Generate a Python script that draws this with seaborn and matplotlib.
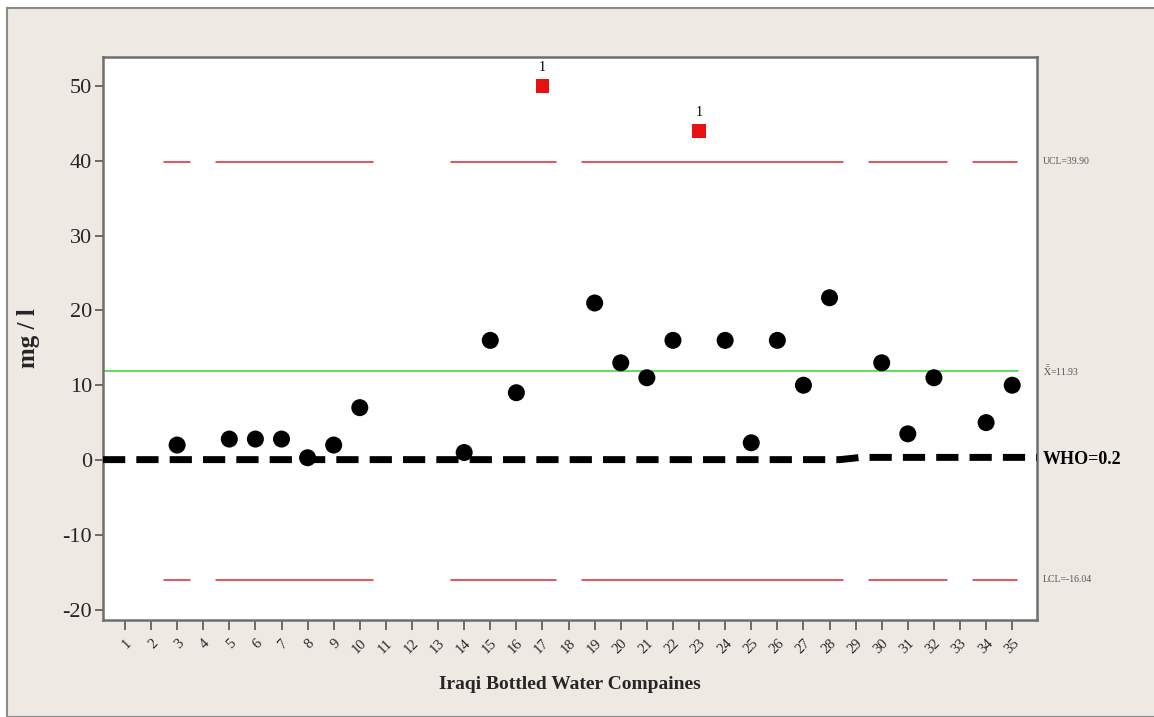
"""I-chart of bottled water measurements against control limits and WHO guideline."""

import matplotlib

matplotlib.use("Agg")

import matplotlib.pyplot as plt
import pandas as pd
import seaborn as sns
from matplotlib.patches import Rectangle

# data
companies = [3, 5, 6, 7, 8, 9, 10, 14, 15, 16, 17, 19, 20, 21, 22, 23, 24, 25, 26, 27, 28, 30, 31, 32, 34, 35]
values = [2.0, 2.8, 2.8, 2.8, 0.3, 2.0, 7.0, 1.0, 16.0, 9.0, 50.0, 21.0, 13.0, 11.0, 16.0, 44.0,
          16.0, 2.3, 16.0, 10.0, 21.7, 13.0, 3.5, 11.0, 5.0, 10.0]
out_of_control = [17, 23]

ucl = 39.90
center = 11.93
lcl = -16.04
limit_start = [2.5, 4.5, 13.5, 18.5, 29.5, 33.5]
limit_end = [3.5, 10.5, 17.5, 28.5, 32.5, 35.2]

who_x = [0.16, 28.4, 29.2, 35.95]
who_y = [0.05, 0.05, 0.35, 0.35]

x_ticks = list(range(1, 36))
y_ticks = [-20, -10, 0, 10, 20, 30, 40, 50]

df = pd.DataFrame({"company": companies, "value": values})
df["status"] = ["out" if c in out_of_control else "in" for c in companies]

sns.set_theme(style="white")
plt.rcParams["font.family"] = ["Liberation Serif", "DejaVu Serif"]
plt.rcParams["mathtext.fontset"] = "stix"

fig = plt.figure(figsize=(11.54, 7.17), dpi=100, facecolor="white")
fig.patches.append(Rectangle((7 / 1154, 0), 1, 1 - 8 / 717, transform=fig.transFigure,
                             facecolor="#efe9e3", edgecolor="#8a8a8a", linewidth=1.5, zorder=-1))
ax = fig.add_axes([103 / 1154, 1 - 620 / 717, (1037 - 103) / 1154, (620 - 57) / 717])
ax.set_facecolor("white")

# control limits, broken at missing companies
for a, b in zip(limit_start, limit_end):
    ax.plot([a, b], [ucl, ucl], color="#e8202a", lw=1.1, zorder=2)
    ax.plot([a, b], [lcl, lcl], color="#e8202a", lw=1.1, zorder=2)
ax.axhline(center, xmin=0.0, xmax=0.98, color="#33d633", lw=1.1, zorder=2)

ax.plot(who_x, who_y, color="black", lw=5, dashes=(3.2, 1.6), zorder=3)

sns.scatterplot(data=df[df.status == "in"], x="company", y="value", color="black",
                s=150, marker="o", edgecolor="none", ax=ax, zorder=4, legend=False)
sns.scatterplot(data=df[df.status == "out"], x="company", y="value", color="#e81010",
                s=100, marker="s", edgecolor="none", ax=ax, zorder=4, legend=False)
for c in out_of_control:
    v = df.loc[df.company == c, "value"].iloc[0]
    ax.annotate("1", (c, v), xytext=(0, 9), textcoords="offset points",
                ha="center", va="bottom", fontsize=10, color="black")

ax.set_xlim(0.16, 35.95)
ax.set_ylim(-21.4, 53.9)
ax.set_xticks(x_ticks)
ax.set_xticklabels([str(t) for t in x_ticks], rotation=45, ha="right",
                   rotation_mode="anchor", fontsize=10.5)
ax.set_yticks(y_ticks)
ax.set_yticklabels([str(t) for t in y_ticks], fontsize=16)
ax.tick_params(axis="x", direction="out", length=7, width=1.2, color="#555555", pad=5, bottom=True)
ax.tick_params(axis="y", direction="out", length=6, width=1.2, color="#555555", pad=2, left=True)

for s in ax.spines.values():
    s.set_color("#6e6e6e")
    s.set_linewidth(1.8)

ax.set_xlabel("Iraqi Bottled Water Compaines", fontsize=14, fontweight="bold", labelpad=14)
ax.set_ylabel("mg / l", fontsize=18, fontweight="bold")
ax.yaxis.set_label_coords(-0.067, 0.5)

ax.text(1.006, ucl, "UCL=39.90", transform=ax.get_yaxis_transform(), fontsize=7,
        color="#555555", va="center", ha="left")
ax.text(1.006, center, r"$\bar{\bar{\mathrm{X}}}$=11.93", transform=ax.get_yaxis_transform(),
        fontsize=7, color="#555555", va="center", ha="left")
ax.text(1.006, lcl, "LCL=-16.04", transform=ax.get_yaxis_transform(), fontsize=7,
        color="#555555", va="center", ha="left")
ax.text(1.006, 0.0, "WHO=0.2", transform=ax.get_yaxis_transform(), fontsize=13,
        fontweight="bold", color="black", va="center", ha="left")

fig.savefig("out.png", dpi=100, facecolor=fig.get_facecolor())
